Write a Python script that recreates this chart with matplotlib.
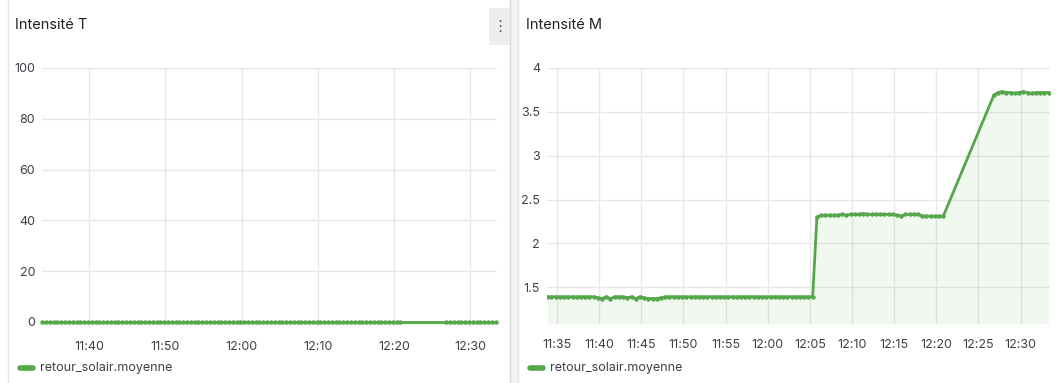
import matplotlib
matplotlib.use("Agg")
import matplotlib.pyplot as plt
import matplotlib.dates as mdates
from matplotlib.patches import Rectangle
from matplotlib.lines import Line2D
import pandas as pd

plt.rcParams['font.family'] = ['Inter', 'DejaVu Sans']

# ---------------- data ----------------
DAY = "2024-01-01 "
seg1_start, seg1_end = "11:33:50", "12:20:50"
seg2_start, seg2_end = "12:26:50", "12:33:20"
times_seg1 = pd.date_range(DAY + seg1_start, DAY + seg1_end, freq="30s")
times_seg2 = pd.date_range(DAY + seg2_start, DAY + seg2_end, freq="30s")
times = times_seg1.append(times_seg2)

# Intensité T (all zero)
intensite_t = [0.0] * (len(times_seg1) + len(times_seg2))

# Intensité M
m_low = ([1.39] * 12 +
         [1.38, 1.37, 1.39, 1.37, 1.39, 1.39, 1.39, 1.38, 1.39, 1.37,
          1.39, 1.38, 1.37, 1.37, 1.37, 1.38] +
         [1.39] * 36)
m_mid = ([2.30] +
         [2.32, 2.32, 2.32, 2.32, 2.32, 2.33, 2.32, 2.33] +
         [2.33, 2.33, 2.34, 2.33, 2.33, 2.33, 2.33, 2.33, 2.33, 2.33] +
         [2.32, 2.31, 2.33, 2.33, 2.33, 2.33] +
         [2.31, 2.31, 2.31, 2.31, 2.31, 2.31])
m_high = [3.69, 3.72, 3.73, 3.72, 3.72, 3.71, 3.72, 3.73, 3.72, 3.71,
          3.72, 3.72, 3.72, 3.72]
intensite_m = m_low + m_mid + m_high

titles = ["Intensité T", "Intensité M"]
series_name = "retour_solair.moyenne"
t_yticks = [0, 20, 40, 60, 80, 100]
m_yticks = [1.5, 2, 2.5, 3, 3.5, 4]
m_yticklabels = ["1.5", "2", "2.5", "3", "3.5", "4"]

# ---------------- style ----------------
W, H = 1060, 383
GREEN = "#56a64b"
GRID = "#e8e8e8"
TICK = "#3d4046"
TITLE = "#1f2226"

fig = plt.figure(figsize=(W / 100, H / 100), dpi=100)
fig.patch.set_facecolor("white")


def px_axes(x0, y0, x1, y1):
    return fig.add_axes([x0 / W, 1 - y1 / H, (x1 - x0) / W, (y1 - y0) / H])


xlim = (pd.Timestamp(DAY + "11:33:48"), pd.Timestamp(DAY + "12:33:30"))


def style(ax, ymin, ymax, yticks, yticklabels, major_minutes):
    ax.set_facecolor("white")
    for s in ax.spines.values():
        s.set_visible(False)
    ax.set_xlim(*xlim)
    ax.set_ylim(ymin, ymax)
    ax.set_yticks(yticks)
    ax.set_yticklabels(yticklabels)
    ax.xaxis.set_major_locator(mdates.MinuteLocator(byminute=major_minutes))
    ax.xaxis.set_major_formatter(mdates.DateFormatter("%H:%M"))
    ax.grid(True, color=GRID, linewidth=1)
    ax.set_axisbelow(True)
    ax.tick_params(axis="both", length=0, labelsize=9, colors=TICK)
    ax.tick_params(axis="x", pad=11)
    ax.tick_params(axis="y", pad=5)


# Left panel
axT = px_axes(42, 68, 497, 326)
style(axT, -1.6, 100, t_yticks, [str(v) for v in t_yticks], range(0, 60, 10))
axT.fill_between(times, intensite_t, -1.6, color=GREEN, alpha=0.08, linewidth=0)
axT.plot(times, intensite_t, color=GREEN, linewidth=2, marker="o",
         markersize=2.2, clip_on=False)

# Right panel
axM = px_axes(547, 68, 1050, 324)
style(axM, 1.08, 4.0, m_yticks, m_yticklabels, range(0, 60, 5))
axM.fill_between(times, intensite_m, 1.08, color=GREEN, alpha=0.08, linewidth=0)
axM.plot(times, intensite_m, color=GREEN, linewidth=2, marker="o",
         markersize=2.2)

# Titles
fig.text(15 / W, 1 - 25 / H, titles[0], fontsize=10.5, color=TITLE,
         ha="left", va="center")
fig.text(526 / W, 1 - 25 / H, titles[1], fontsize=10.5, color=TITLE,
         ha="left", va="center")

# Legends
for lx in (20, 530):
    fig.add_artist(Line2D([lx / W, (lx + 13) / W], [1 - 368 / H, 1 - 368 / H],
                          color=GREEN, linewidth=4, solid_capstyle="round"))
    fig.text((lx + 20) / W, 1 - 368 / H, series_name, fontsize=9,
             color=TICK, ha="left", va="center")

# Panel borders
fig.add_artist(Line2D([8 / W, 8 / W], [0, 1], color="#e4e4e4", linewidth=1))
fig.add_artist(Rectangle((510 / W, 0), 8 / W, 1, transform=fig.transFigure,
                         facecolor="#f2f2f2", edgecolor="none"))
fig.add_artist(Line2D([510 / W, 510 / W], [0, 1], color="#dcdcdc", linewidth=1))
fig.add_artist(Line2D([518 / W, 518 / W], [0, 1], color="#e4e4e4", linewidth=1))

# Menu button
fig.add_artist(Rectangle((489 / W, 1 - 45 / H), 21 / W, 37 / H,
                         transform=fig.transFigure, facecolor="#eeeeee",
                         edgecolor="none"))
fig.text(499.5 / W, 1 - 26 / H, "⋮", fontsize=11, color="#555555",
         ha="center", va="center", family=["DejaVu Sans"])

fig.savefig("out.png", dpi=100)
